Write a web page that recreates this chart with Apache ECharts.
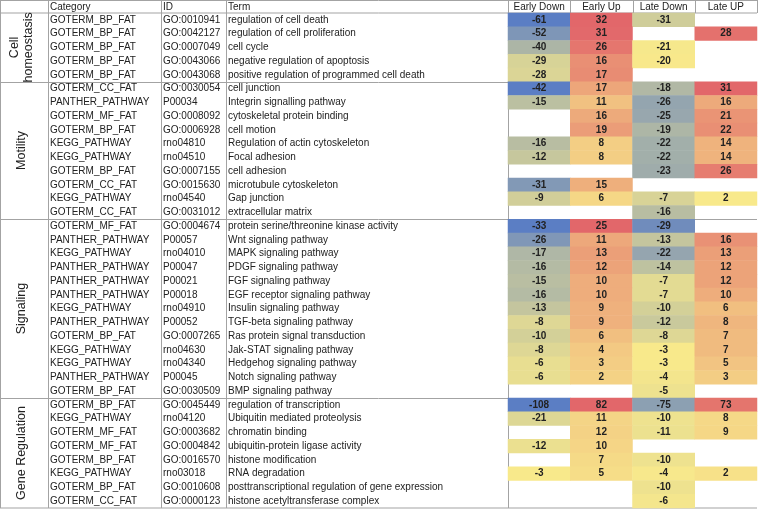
<!DOCTYPE html>
<html><head><meta charset="utf-8">
<script src="https://cdn.jsdelivr.net/npm/echarts@6/dist/echarts.min.js"></script>
<style>html,body{margin:0;padding:0;background:#fff}#c{width:758px;height:509px}</style>
</head><body><div id="c"></div>
<script>
// ---------- data ----------
const columns = ['Early Down', 'Early Up', 'Late Down', 'Late UP'];
const headerCols = ['Category', 'ID', 'Term'];
const sections = ['Cell\nhomeostasis', 'Motility', 'Signaling', 'Gene Regulation'];
const sectionSizes = [5, 10, 13, 8];
const categories = [
  'GOTERM_BP_FAT','GOTERM_BP_FAT','GOTERM_BP_FAT','GOTERM_BP_FAT','GOTERM_BP_FAT',
  'GOTERM_CC_FAT','PANTHER_PATHWAY','GOTERM_MF_FAT','GOTERM_BP_FAT','KEGG_PATHWAY','KEGG_PATHWAY','GOTERM_BP_FAT','GOTERM_CC_FAT','KEGG_PATHWAY','GOTERM_CC_FAT',
  'GOTERM_MF_FAT','PANTHER_PATHWAY','KEGG_PATHWAY','PANTHER_PATHWAY','PANTHER_PATHWAY','PANTHER_PATHWAY','KEGG_PATHWAY','PANTHER_PATHWAY','GOTERM_BP_FAT','KEGG_PATHWAY','KEGG_PATHWAY','PANTHER_PATHWAY','GOTERM_BP_FAT',
  'GOTERM_BP_FAT','KEGG_PATHWAY','GOTERM_MF_FAT','GOTERM_MF_FAT','GOTERM_BP_FAT','KEGG_PATHWAY','GOTERM_BP_FAT','GOTERM_CC_FAT'
];
const ids = [
  'GO:0010941','GO:0042127','GO:0007049','GO:0043066','GO:0043068',
  'GO:0030054','P00034','GO:0008092','GO:0006928','rno04810','rno04510','GO:0007155','GO:0015630','rno04540','GO:0031012',
  'GO:0004674','P00057','rno04010','P00047','P00021','P00018','rno04910','P00052','GO:0007265','rno04630','rno04340','P00045','GO:0030509',
  'GO:0045449','rno04120','GO:0003682','GO:0004842','GO:0016570','rno03018','GO:0010608','GO:0000123'
];
const terms = [
  'regulation of cell death','regulation of cell proliferation','cell cycle','negative regulation of apoptosis','positive regulation of programmed cell death',
  'cell junction','Integrin signalling pathway','cytoskeletal protein binding','cell motion','Regulation of actin cytoskeleton','Focal adhesion','cell adhesion','microtubule cytoskeleton','Gap junction','extracellular matrix',
  'protein serine/threonine kinase activity','Wnt signaling pathway','MAPK signaling pathway','PDGF signaling pathway','FGF signaling pathway','EGF receptor signaling pathway','Insulin signaling pathway','TGF-beta signaling pathway','Ras protein signal transduction','Jak-STAT signaling pathway','Hedgehog signaling pathway','Notch signaling pathway','BMP signaling pathway',
  'regulation of transcription','Ubiquitin mediated proteolysis','chromatin binding','ubiquitin-protein ligase activity','histone modification','RNA degradation','posttranscriptional regulation of gene expression','histone acetyltransferase complex'
];
const earlyDown = [-61,-52,-40,-29,-28, -42,-15,null,null,-16,-12,null,-31,-9,null, -33,-26,-17,-16,-15,-16,-13,-8,-10,-8,-6,-6,null, -108,-21,null,-12,null,-3,null,null];
const earlyUp   = [32,31,26,16,17, 17,11,16,19,8,8,null,15,6,null, 25,11,13,12,10,10,9,9,6,4,3,2,null, 82,11,12,10,7,5,null,null];
const lateDown  = [-31,null,-21,-20,null, -18,-26,-25,-19,-22,-22,-23,null,-7,-16, -29,-13,-22,-14,-7,-7,-10,-12,-8,-3,-3,-4,-5, -75,-10,-11,null,-10,-4,-10,-6];
const lateUp    = [null,28,null,null,null, 31,16,21,22,14,14,26,null,2,null, null,16,13,12,12,10,6,8,7,7,5,3,null, 73,8,9,null,null,2,null,null];

// ---------- layout ----------
const W = 758, H = 509;
const TOP = 13, BOTTOM = 508, HEAT_L = 508, RIGHT = 757;
const X_CAT = 48, X_ID = 161, X_TERM = 226;
const nRows = terms.length;
const rowH = (BOTTOM - TOP) / nRows;
const FONT = 'Liberation Sans, Arial, sans-serif';
const LINE = '#a3a3a3';

// build heatmap data, colour scaled per section (min / 50th percentile / max)
const valueCols = [earlyDown, earlyUp, lateDown, lateUp];
const heatData = [];
let start = 0;
sectionSizes.forEach(sz => {
  const vals = [];
  for (let r = start; r < start + sz; r++) valueCols.forEach(col => { if (col[r] != null) vals.push(col[r]); });
  const s = vals.slice().sort((a, b) => a - b);
  const pos = (s.length - 1) * 0.5, lo = Math.floor(pos), hi = Math.ceil(pos);
  const mid = s[lo] + (s[hi] - s[lo]) * (pos - lo);
  const mn = s[0], mx = s[s.length - 1];
  for (let r = start; r < start + sz; r++) {
    valueCols.forEach((col, c) => {
      const v = col[r];
      if (v == null) return;
      const n = v <= mid ? -(mid - v) / (mid - mn) : (v - mid) / (mx - mid);
      heatData.push([c, r, v, n]);
    });
  }
  start += sz;
});

// graphics: table lines, headers, section labels
const g = [];
function hline(y, x1, x2) { g.push({type:'line', silent:true, shape:{x1:x1, y1:y, x2:x2, y2:y}, style:{stroke:LINE, lineWidth:1}}); }
function vline(x, y1, y2) { g.push({type:'line', silent:true, shape:{x1:x, y1:y1, x2:x, y2:y2}, style:{stroke:LINE, lineWidth:1}}); }
hline(0.5, 0, RIGHT); hline(TOP, 0, RIGHT); hline(BOTTOM, 0, RIGHT);
let acc = 0;
sectionSizes.forEach((sz, i) => {
  const y0 = TOP + acc * rowH, y1 = TOP + (acc + sz) * rowH;
  if (i > 0) hline(Math.round(y0) + 0.5, 0, RIGHT);
  g.push({type:'text', silent:true, x:22, y:(y0 + y1) / 2, rotation: Math.PI / 2,
    style:{text: sections[i], font:'12.5px ' + FONT, fill:'#222', align:'center', verticalAlign:'middle', lineHeight:14}});
  acc += sz;
});
[0.5, X_CAT + 0.5, X_ID + 0.5, X_TERM + 0.5, HEAT_L + 0.5].forEach(x => vline(x, 0, BOTTOM));
const colW = (RIGHT - HEAT_L) / columns.length;
for (let i = 1; i <= columns.length; i++) vline(Math.round(HEAT_L + i * colW) + 0.5, 0, TOP);
[[X_CAT, headerCols[0]], [X_ID, headerCols[1]], [X_TERM, headerCols[2]]].forEach(([x, t]) => {
  g.push({type:'text', silent:true, x:x + 2, y:7, style:{text:t, font:'10px ' + FONT, fill:'#222', align:'left', verticalAlign:'middle'}});
});

const rowIdx = terms.map((_, i) => i);
function textAxis(labels, margin) {
  return {type:'category', data:labels, inverse:true, position:'left', gridIndex:0,
    axisLine:{show:false}, axisTick:{show:false}, splitLine:{show:false},
    axisLabel:{show:true, interval:0, margin:margin, align:'left', verticalAlign:'middle', padding:[5,0,0,0],
      fontSize:10, fontFamily:FONT, color:'#222'}};
}

const chart = echarts.init(document.getElementById('c'), null, {renderer:'canvas'});
chart.setOption({
  animation:false,
  backgroundColor:'#fff',
  grid:{left:HEAT_L, right:W - RIGHT, top:TOP, bottom:H - BOTTOM, containLabel:false},
  xAxis:{type:'category', data:columns, position:'top', axisLine:{show:false}, axisTick:{show:false},
    splitLine:{show:false}, axisLabel:{interval:0, margin:6, verticalAlign:'middle', fontSize:10, fontFamily:FONT, color:'#222'}},
  yAxis:[
    textAxis(terms, HEAT_L - X_TERM - 2),
    textAxis(ids, HEAT_L - X_ID - 2),
    textAxis(categories, HEAT_L - X_CAT - 2)
  ],
  visualMap:{show:false, type:'continuous', dimension:3, min:-1, max:1, seriesIndex:0,
    inRange:{color:['#5b7ec4', '#f8e98b', '#e2676a']}},
  series:[
    {type:'heatmap', data:heatData, xAxisIndex:0, yAxisIndex:0,
      itemStyle:{borderWidth:0},
      label:{show:true, formatter:p => p.value[2], fontSize:10, fontWeight:'bold', fontFamily:FONT, color:'#222', padding:[5,0,0,0]},
      emphasis:{disabled:true}},
    {type:'scatter', data:rowIdx.map(i => [0, i]), yAxisIndex:1, symbolSize:0, silent:true},
    {type:'scatter', data:rowIdx.map(i => [0, i]), yAxisIndex:2, symbolSize:0, silent:true}
  ],
  graphic:g
});
</script></body></html>
